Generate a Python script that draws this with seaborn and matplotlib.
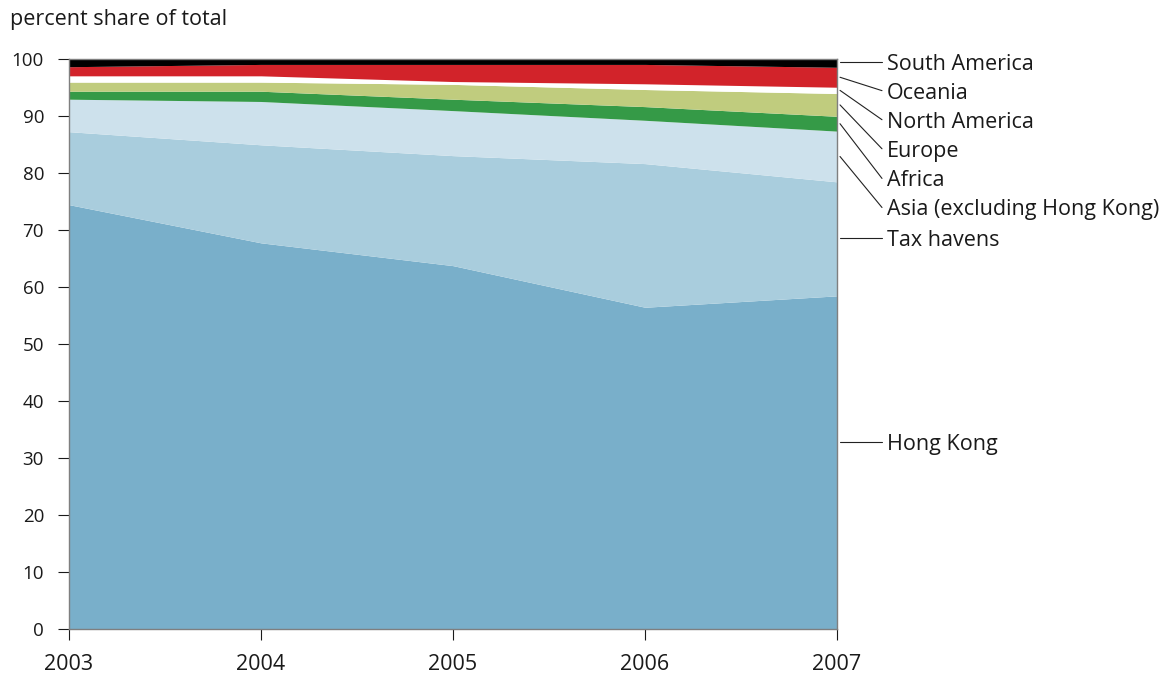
import numpy as np
import seaborn as sns
import matplotlib.pyplot as plt
from matplotlib.transforms import blended_transform_factory

years = [2003, 2004, 2005, 2006, 2007]
regions = ['Hong Kong', 'Tax havens', 'Asia (excluding Hong Kong)', 'Africa',
           'Europe', 'North America', 'Oceania', 'South America']

# percent share of total
hong_kong = [74.5, 67.8, 63.8, 56.5, 58.5]
tax_havens = [12.8, 17.2, 19.3, 25.2, 20.0]
asia = [5.7, 7.6, 7.9, 7.6, 8.9]
africa = [1.4, 1.8, 2.0, 2.4, 2.6]
europe = [1.6, 1.6, 2.6, 3.0, 4.0]
north_america = [1.1, 1.1, 0.5, 1.0, 1.1]
oceania = [1.6, 2.0, 3.0, 3.4, 3.5]
south_america = [1.3, 0.9, 0.9, 0.9, 1.4]

colors = ['#79afca', '#a9cddd', '#cde1ec', '#359a47', '#c0cc7e',
          '#ffffff', '#d2232a', '#000000']
label_y = [32.9, 68.7, 74.0, 79.1, 84.3, 89.4, 94.5, 99.6]

sns.set_theme(style='ticks')
plt.rcParams['font.family'] = ['Open Sans', 'DejaVu Sans']
plt.rcParams['text.color'] = '#1a1a1a'
plt.rcParams['xtick.color'] = '#1a1a1a'
plt.rcParams['ytick.color'] = '#1a1a1a'

fig = plt.figure(figsize=(11.66, 6.75), dpi=100)
ax = fig.add_axes([69 / 1166, 1 - 629.3 / 675, (837 - 69) / 1166, (629.3 - 59.3) / 675])

series = np.array([hong_kong, tax_havens, asia, africa, europe,
                   north_america, oceania, south_america])
tops = series.cumsum(axis=0)
bottoms = tops - series
for i, name in enumerate(regions):
    ax.fill_between(years, bottoms[i], tops[i], color=colors[i], lw=0)

ax.set_xlim(2003, 2007)
ax.set_ylim(0, 100)
ax.set_xticks(years)
ax.set_yticks(range(0, 101, 10))
ax.tick_params(axis='y', length=8, width=0.8, pad=10, labelsize=13.5)
ax.tick_params(axis='x', length=8, width=0.8, pad=10, labelsize=15.5)
for side in ['top', 'right', 'left', 'bottom']:
    ax.spines[side].set_color('#7f7f7f')
    ax.spines[side].set_linewidth(1.0)

# labels on the right with leader lines
trans = blended_transform_factory(ax.transAxes, ax.transData)
x_start = (840 - 69) / 768
x_end = (882 - 69) / 768
x_text = (887 - 69) / 768
for i, name in enumerate(regions):
    lo, hi = bottoms[i][-1], tops[i][-1]
    y0 = label_y[i] if lo <= label_y[i] <= hi else (lo + hi) / 2
    ax.plot([x_start, x_end], [y0, label_y[i]], transform=trans,
            color='#222222', lw=0.8, clip_on=False)
    ax.text(x_text, label_y[i], name, transform=trans, fontsize=15.5,
            va='center_baseline', ha='left')

fig.text(10 / 1166, 1 - 20 / 675, 'percent share of total', fontsize=15.5,
         va='center', ha='left')

fig.savefig('out.png', dpi=100)
